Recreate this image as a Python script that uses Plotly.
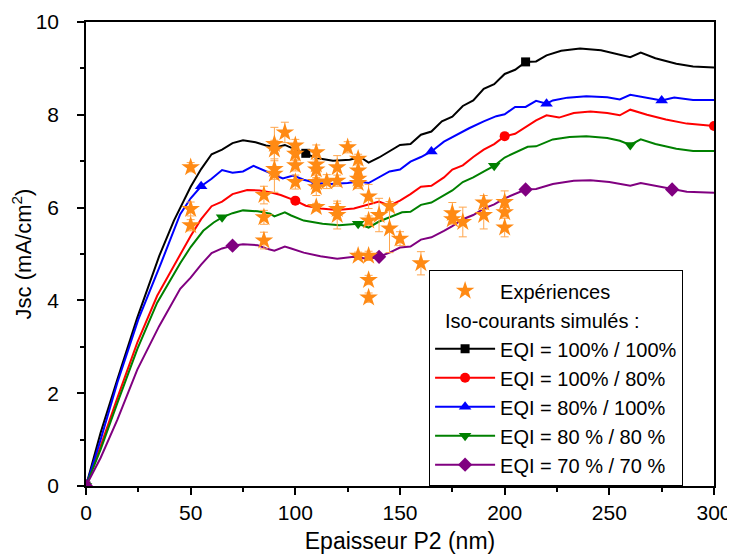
import plotly.graph_objects as go

# ---------------- data ----------------
black_x = [0, 7, 15, 24.5, 35, 42, 50, 55, 60, 65, 70, 75, 81, 86, 91, 95, 99, 105, 110, 118, 126, 131, 135, 140,
           145, 150, 155, 160, 165, 170, 175, 180, 185, 190, 195, 200, 205, 210, 215, 220, 227, 236, 246, 253, 260,
           265, 272, 282, 290, 300]
black_y = [0, 1.15, 2.30, 3.63, 4.96, 5.72, 6.45, 6.83, 7.15, 7.25, 7.39, 7.45, 7.41, 7.34, 7.30, 7.35, 7.27, 7.17,
           7.07, 7.01, 7.03, 7.09, 6.97, 7.08, 7.21, 7.35, 7.37, 7.57, 7.64, 7.86, 7.96, 8.19, 8.31, 8.56, 8.66, 8.88,
           8.97, 9.14, 9.15, 9.28, 9.38, 9.43, 9.39, 9.32, 9.24, 9.34, 9.22, 9.10, 9.04, 9.02]

red_x = [0, 7, 15, 24.5, 34, 44, 50, 55, 60, 65, 70, 77, 83, 89, 93, 100, 105, 112, 120, 128, 134, 140, 145, 150,
         155, 160, 165, 171, 175, 180, 185, 190, 195, 200, 205, 211, 215, 220, 226, 233, 241, 249, 255, 260, 268,
         277, 287, 300]
red_y = [0, 0.86, 1.90, 3.09, 4.10, 4.89, 5.39, 5.75, 6.03, 6.13, 6.29, 6.38, 6.37, 6.32, 6.27, 6.15, 6.04, 5.98,
         5.95, 5.98, 6.06, 6.13, 6.04, 6.15, 6.29, 6.45, 6.47, 6.65, 6.82, 6.91, 7.09, 7.25, 7.37, 7.54, 7.59, 7.76,
         7.88, 7.99, 7.94, 8.04, 8.07, 8.04, 7.99, 8.11, 8.00, 7.90, 7.81, 7.76]

blue_x = [0, 7, 15, 25, 36, 45, 50, 55, 60, 65, 70, 75, 80, 86, 90, 94, 99, 104, 110, 117, 125, 130, 135, 140, 145,
          150, 155, 160, 165, 171, 177, 183, 190, 196, 200, 205, 210, 215, 220, 223, 230, 239, 249, 255, 260, 268,
          275, 281, 290, 300]
blue_y = [0, 1.00, 2.23, 3.59, 4.82, 5.86, 6.20, 6.46, 6.62, 6.81, 6.75, 6.78, 6.90, 6.79, 6.70, 6.63, 6.69, 6.60,
          6.53, 6.51, 6.53, 6.56, 6.53, 6.65, 6.78, 6.82, 6.99, 7.09, 7.21, 7.42, 7.57, 7.71, 7.86, 7.97, 8.01, 8.17,
          8.17, 8.30, 8.24, 8.31, 8.37, 8.40, 8.38, 8.33, 8.43, 8.36, 8.31, 8.37, 8.32, 8.32]

green_x = [0, 7, 15, 24.5, 34, 45, 50, 56, 61, 65, 70, 75, 82, 88, 90, 95, 98, 104, 113, 121, 130, 135, 140, 145,
           151, 155, 160, 165, 171, 175, 180, 185, 191, 195, 200, 205, 211, 215, 223, 231, 239, 249, 255, 260, 265,
           272, 282, 290, 300]
green_y = [0, 0.79, 1.79, 2.95, 3.95, 4.80, 5.15, 5.50, 5.68, 5.79, 5.88, 5.94, 5.92, 5.87, 5.81, 5.90, 5.83, 5.72,
           5.65, 5.62, 5.65, 5.57, 5.70, 5.79, 5.90, 5.91, 6.06, 6.11, 6.27, 6.37, 6.55, 6.65, 6.80, 6.90, 7.08, 7.18,
           7.31, 7.32, 7.47, 7.52, 7.54, 7.50, 7.44, 7.35, 7.47, 7.37, 7.27, 7.22, 7.22]

purple_x = [0, 7, 15, 24.5, 35, 45, 50, 55, 60, 65, 70, 75, 82, 86, 90, 95, 98, 104, 112, 120, 128, 135, 140, 145,
            150, 155, 160, 165, 171, 175, 180, 185, 190, 195, 200, 203, 210, 215, 223, 233, 241, 250, 260, 265, 272,
            280, 287, 300]
purple_y = [0, 0.61, 1.43, 2.51, 3.45, 4.25, 4.49, 4.77, 5.02, 5.12, 5.18, 5.21, 5.19, 5.12, 5.07, 5.16, 5.12, 5.03,
            4.95, 4.90, 4.94, 4.89, 4.94, 5.03, 5.14, 5.16, 5.31, 5.36, 5.50, 5.60, 5.75, 5.84, 5.98, 6.07, 6.20, 6.26,
            6.39, 6.40, 6.51, 6.58, 6.59, 6.55, 6.47, 6.53, 6.47, 6.39, 6.34, 6.32]

# x positions where each simulated curve carries a symbol
black_marks = [0, 105, 210]
red_marks = [0, 100, 200, 300]
blue_marks = [0, 55, 110, 165, 220, 275]
green_marks = [0, 65, 130, 195, 260]
purple_marks = [0, 70, 140, 210, 280]

# experiments
exp_x = [50, 50, 50,
         85, 85, 85,
         90, 90, 90, 90,
         95,
         100, 100, 100, 100,
         110, 110, 110, 110, 110, 110,
         115,
         120, 120, 120, 120,
         125,
         130, 130, 130, 130, 130,
         135, 135, 135, 135, 135,
         140,
         145, 145,
         150,
         160,
         175, 175,
         180,
         190, 190,
         200, 200, 200]
exp_y = [6.87, 5.97, 5.62,
         6.27, 5.79, 5.29,
         7.37, 7.25, 6.83, 6.73,
         7.62,
         7.34, 7.16, 6.91, 6.55,
         7.19, 6.93, 6.82, 6.55, 6.44, 6.01,
         6.56,
         6.87, 6.58, 5.97, 5.84,
         7.30,
         7.05, 6.80, 6.62, 6.53, 4.96,
         6.24, 5.72, 4.96, 4.44, 4.06,
         5.84,
         6.03, 5.55,
         5.33,
         4.80,
         5.88, 5.75,
         5.69,
         6.11, 5.84,
         6.12, 5.90, 5.57]
exp_err = [0.10, 0.15, 0.12,
           0.19, 0.15, 0.18,
           0.36, 0.20, 0.50, 0.12,
           0.22,
           0.13, 0.15, 0.12, 0.15,
           0.16, 0.15, 0.12, 0.10, 0.18, 0.08,
           0.15,
           0.25, 0.12, 0.12, 0.30,
           0.12,
           0.10, 0.12, 0.10, 0.12, 0.08,
           0.26, 0.10, 0.10, 0.10, 0.10,
           0.36,
           0.10, 0.52,
           0.15,
           0.25,
           0.23, 0.10,
           0.32,
           0.15, 0.30,
           0.24, 0.10, 0.20]

exp_name = "Expériences"
iso_label = "Iso-courants simulés :"
x_title = "Epaisseur P2 (nm)"
y_title = "Jsc (mA/cm<sup>2</sup>)"

FONT = "Liberation Sans, Arial, sans-serif"

series = [
    dict(name="EQI = 100% / 100%", x=black_x, y=black_y, marks=black_marks, color="#000000", symbol="square", size=9),
    dict(name="EQI = 100% / 80%", x=red_x, y=red_y, marks=red_marks, color="#FF0000", symbol="circle", size=10),
    dict(name="EQI = 80% / 100%", x=blue_x, y=blue_y, marks=blue_marks, color="#0000FF", symbol="triangle-up", size=11),
    dict(name="EQI = 80 % / 80 %", x=green_x, y=green_y, marks=green_marks, color="#008000", symbol="triangle-down", size=11),
    dict(name="EQI = 70 % / 70 %", x=purple_x, y=purple_y, marks=purple_marks, color="#800080", symbol="diamond", size=11),
]

fig = go.Figure()

for i, s in enumerate(series):
    fig.add_trace(go.Scatter(x=s["x"], y=s["y"], mode="lines",
                             line=dict(color=s["color"], width=2),
                             showlegend=False, hoverinfo="skip"))
    mx = [xv for xv in s["x"] if xv in s["marks"]]
    my = [yv for xv, yv in zip(s["x"], s["y"]) if xv in s["marks"]]
    fig.add_trace(go.Scatter(x=mx, y=my, mode="markers",
                             marker=dict(color=s["color"], symbol=s["symbol"], size=s["size"]),
                             showlegend=False))
    fig.add_trace(go.Scatter(x=[None], y=[None], mode="lines+markers", name=s["name"],
                             line=dict(color=s["color"], width=2),
                             marker=dict(color=s["color"], symbol=s["symbol"], size=s["size"]),
                             legendrank=10 + i))

# experiments on top
fig.add_trace(go.Scatter(x=exp_x, y=exp_y, mode="markers", name=exp_name,
                         marker=dict(symbol="star", size=14, color="#FF8A14", line=dict(width=0)),
                         error_y=dict(type="data", array=exp_err, color="#FFA64D", thickness=1, width=4),
                         legendrank=1))
# blank legend row (holds the "Iso-courants simulés :" label)
fig.add_trace(go.Scatter(x=[None], y=[None], mode="markers", name=" ",
                         marker=dict(color="rgba(0,0,0,0)", size=1), legendrank=2))

axis_common = dict(showline=True, linecolor="black", linewidth=1.5, mirror=True,
                   ticks="outside", ticklen=7, tickwidth=1.5, tickcolor="black",
                   showgrid=False, zeroline=False, automargin=False,
                   tickfont=dict(family=FONT, size=21, color="black"))

fig.update_xaxes(range=[0, 300], dtick=50, tick0=0,
                 minor=dict(dtick=25, ticks="outside", ticklen=4, tickwidth=1.5, tickcolor="black"),
                 title=dict(text=x_title, font=dict(family=FONT, size=23, color="black"), standoff=16),
                 ticklabelstandoff=0, **axis_common)
fig.update_yaxes(range=[0, 10], dtick=2, tick0=0,
                 minor=dict(dtick=1, ticks="outside", ticklen=4, tickwidth=1.5, tickcolor="black"),
                 title=dict(text=y_title, font=dict(family=FONT, size=22, color="black"), standoff=2),
                 ticklabelstandoff=14, **axis_common)

fig.add_annotation(text=iso_label, xref="paper", yref="paper", x=0.568, y=0.356,
                   xanchor="left", yanchor="middle", showarrow=False,
                   font=dict(family=FONT, size=20, color="black"))

# the page places the figure 8 px in from the top-left corner
fig.update_layout(
    width=727, height=546,
    margin=dict(l=78, r=21, t=14, b=68, autoexpand=False),
    paper_bgcolor="white", plot_bgcolor="white",
    font=dict(family=FONT, color="black"),
    legend=dict(x=0.546, y=0, xanchor="left", yanchor="bottom",
                bgcolor="white", bordercolor="black", borderwidth=1.2,
                font=dict(family=FONT, size=20, color="black"),
                itemwidth=60, tracegroupgap=0,
                entrywidth=200, entrywidthmode="pixels"),
)

fig.write_html("out.html")
